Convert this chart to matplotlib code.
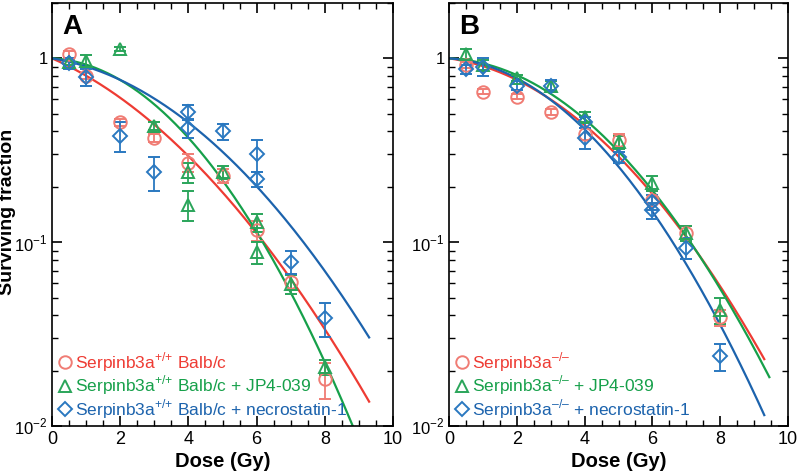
import matplotlib.pyplot as plt
import matplotlib.ticker as mticker
import numpy as np

plt.rcParams['font.family'] = ['Liberation Sans', 'DejaVu Sans']
plt.rcParams['mathtext.fontset'] = 'custom'
plt.rcParams['mathtext.rm'] = 'Liberation Sans'

RED = '#ee3b33'
GREEN = '#16a04a'
BLUE = '#1c63ad'
RED_M = '#f07c74'
GREEN_M = '#2aa55a'
BLUE_M = '#2a78c0'

# panel A data (dose, surviving fraction, error)
a_red_dose = [0.5, 1, 2, 3, 4, 5, 6, 7, 8]
a_red_sf = [1.05, 0.80, 0.45, 0.37, 0.27, 0.23, 0.116, 0.061, 0.018]
a_red_err = [0.04, 0.03, 0.02, 0.02, 0.03, 0.02, 0.015, 0.006, 0.004]

a_green_dose = [0.5, 1, 2, 3, 4, 4, 5, 6, 6, 7, 8]
a_green_sf = [0.95, 0.97, 1.12, 0.43, 0.24, 0.16, 0.24, 0.128, 0.088, 0.059, 0.021]
a_green_err = [0.03, 0.07, 0.03, 0.02, 0.03, 0.03, 0.02, 0.015, 0.012, 0.007, 0.002]

a_blue_dose = [0.5, 1, 2, 3, 4, 4, 5, 6, 6, 7, 8]
a_blue_sf = [0.94, 0.79, 0.38, 0.24, 0.51, 0.42, 0.40, 0.30, 0.22, 0.078, 0.0386]
a_blue_err = [0.06, 0.08, 0.07, 0.05, 0.05, 0.05, 0.04, 0.06, 0.02, 0.011, 0.008]

# panel B data
b_red_dose = [0.5, 1, 2, 3, 4, 5, 6, 7, 8]
b_red_sf = [0.92, 0.66, 0.62, 0.51, 0.39, 0.36, 0.17, 0.112, 0.039]
b_red_err = [0.03, 0.02, 0.02, 0.02, 0.03, 0.03, 0.02, 0.01, 0.004]

b_green_dose = [0.5, 1, 2, 3, 4, 5, 6, 7, 8]
b_green_sf = [1.06, 0.92, 0.78, 0.71, 0.48, 0.35, 0.21, 0.112, 0.043]
b_green_err = [0.07, 0.06, 0.03, 0.04, 0.03, 0.03, 0.02, 0.01, 0.007]

b_blue_dose = [0.5, 1, 2, 3, 4, 4, 5, 6, 6, 7, 8]
b_blue_sf = [0.87, 0.90, 0.71, 0.71, 0.45, 0.37, 0.29, 0.165, 0.149, 0.093, 0.024]
b_blue_err = [0.05, 0.10, 0.04, 0.05, 0.03, 0.05, 0.02, 0.015, 0.015, 0.012, 0.004]

# linear-quadratic fit parameters (alpha, beta, last dose of curve)
a_fits = {'red': (0.188, 0.0295, 9.3), 'green': (0.022, 0.0567, 9.0), 'blue': (0.069, 0.033, 9.3)}
b_fits = {'red': (0.061, 0.037, 9.3), 'green': (0.020, 0.0426, 9.45), 'blue': (0.0276, 0.0487, 9.3)}

a_labels = [r'Serpinb3a$^{{+}/{+}}$ Balb/c', r'Serpinb3a$^{{+}/{+}}$ Balb/c + JP4-039',
            r'Serpinb3a$^{{+}/{+}}$ Balb/c + necrostatin-1']
b_labels = [r'Serpinb3a$^{{–}/{–}}$', r'Serpinb3a$^{{–}/{–}}$ + JP4-039',
            r'Serpinb3a$^{{–}/{–}}$ + necrostatin-1']

fig = plt.figure(figsize=(8, 4.76), dpi=100)
axA = fig.add_axes([52 / 800, 50 / 476, 341 / 800, 423 / 476])
axB = fig.add_axes([449 / 800, 50 / 476, 339 / 800, 423 / 476])


def draw(ax, series, fits, labels, letter):
    handles = []
    for (dose, sf, err, mk, col, mcol, key) in series:
        a, b, dmax = fits[key]
        d = np.linspace(0, dmax, 200)
        ax.plot(d, np.exp(-(a * d + b * d ** 2)), color=col, lw=1.6, zorder=2)
        h = ax.errorbar(dose, sf, yerr=err, fmt=mk, mfc='none', mec=mcol,
                        ms=7.5 if mk == 'D' else 9, mew=1.4, ecolor=mcol,
                        elinewidth=1.3, capsize=4, capthick=1.3, zorder=3)
        handles.append(h)
    ax.set_yscale('log')
    ax.set_xlim(0, 10)
    ax.set_ylim(0.01, 2)
    ax.xaxis.set_major_locator(mticker.MultipleLocator(2))
    ax.xaxis.set_minor_locator(mticker.MultipleLocator(0.5))
    ax.yaxis.set_major_locator(mticker.FixedLocator([0.01, 0.1, 1]))
    ax.yaxis.set_major_formatter(mticker.FixedFormatter(['$10^{-2}$', '$10^{-1}$', '1']))
    ax.yaxis.set_minor_locator(mticker.LogLocator(base=10, subs=np.arange(2, 10)))
    ax.yaxis.set_minor_formatter(mticker.NullFormatter())
    ax.tick_params(which='both', direction='in', top=True, right=True, labelsize=13)
    ax.tick_params(axis='y', labelsize=12, pad=3)
    ax.tick_params(which='major', length=7, width=1.2)
    ax.tick_params(which='minor', length=4, width=1)
    for s in ax.spines.values():
        s.set_linewidth(1.2)
    ax.set_xlabel('Dose (Gy)', fontsize=14.5, fontweight='bold', labelpad=3)
    ax.text(0.03, 0.975, letter, transform=ax.transAxes, fontsize=20,
            fontweight='bold', va='top', ha='left')
    leg = ax.legend([hh[0] for hh in handles], labels, loc='lower left', frameon=False,
                    fontsize=12.5, handletextpad=0.15, handlelength=0.9,
                    borderaxespad=0.1, labelspacing=0.0, borderpad=0.2)
    for t, c in zip(leg.get_texts(), [RED, GREEN, BLUE]):
        t.set_color(c)


draw(axA, [(a_red_dose, a_red_sf, a_red_err, 'o', RED, RED_M, 'red'),
           (a_green_dose, a_green_sf, a_green_err, '^', GREEN, GREEN_M, 'green'),
           (a_blue_dose, a_blue_sf, a_blue_err, 'D', BLUE, BLUE_M, 'blue')],
     a_fits, a_labels, 'A')
draw(axB, [(b_red_dose, b_red_sf, b_red_err, 'o', RED, RED_M, 'red'),
           (b_green_dose, b_green_sf, b_green_err, '^', GREEN, GREEN_M, 'green'),
           (b_blue_dose, b_blue_sf, b_blue_err, 'D', BLUE, BLUE_M, 'blue')],
     b_fits, b_labels, 'B')

fig.text(8 / 800, 1 - 212 / 476, 'Surviving fraction', rotation=90, fontsize=14,
         fontweight='bold', ha='center', va='center')

fig.savefig('out.png', dpi=100)
